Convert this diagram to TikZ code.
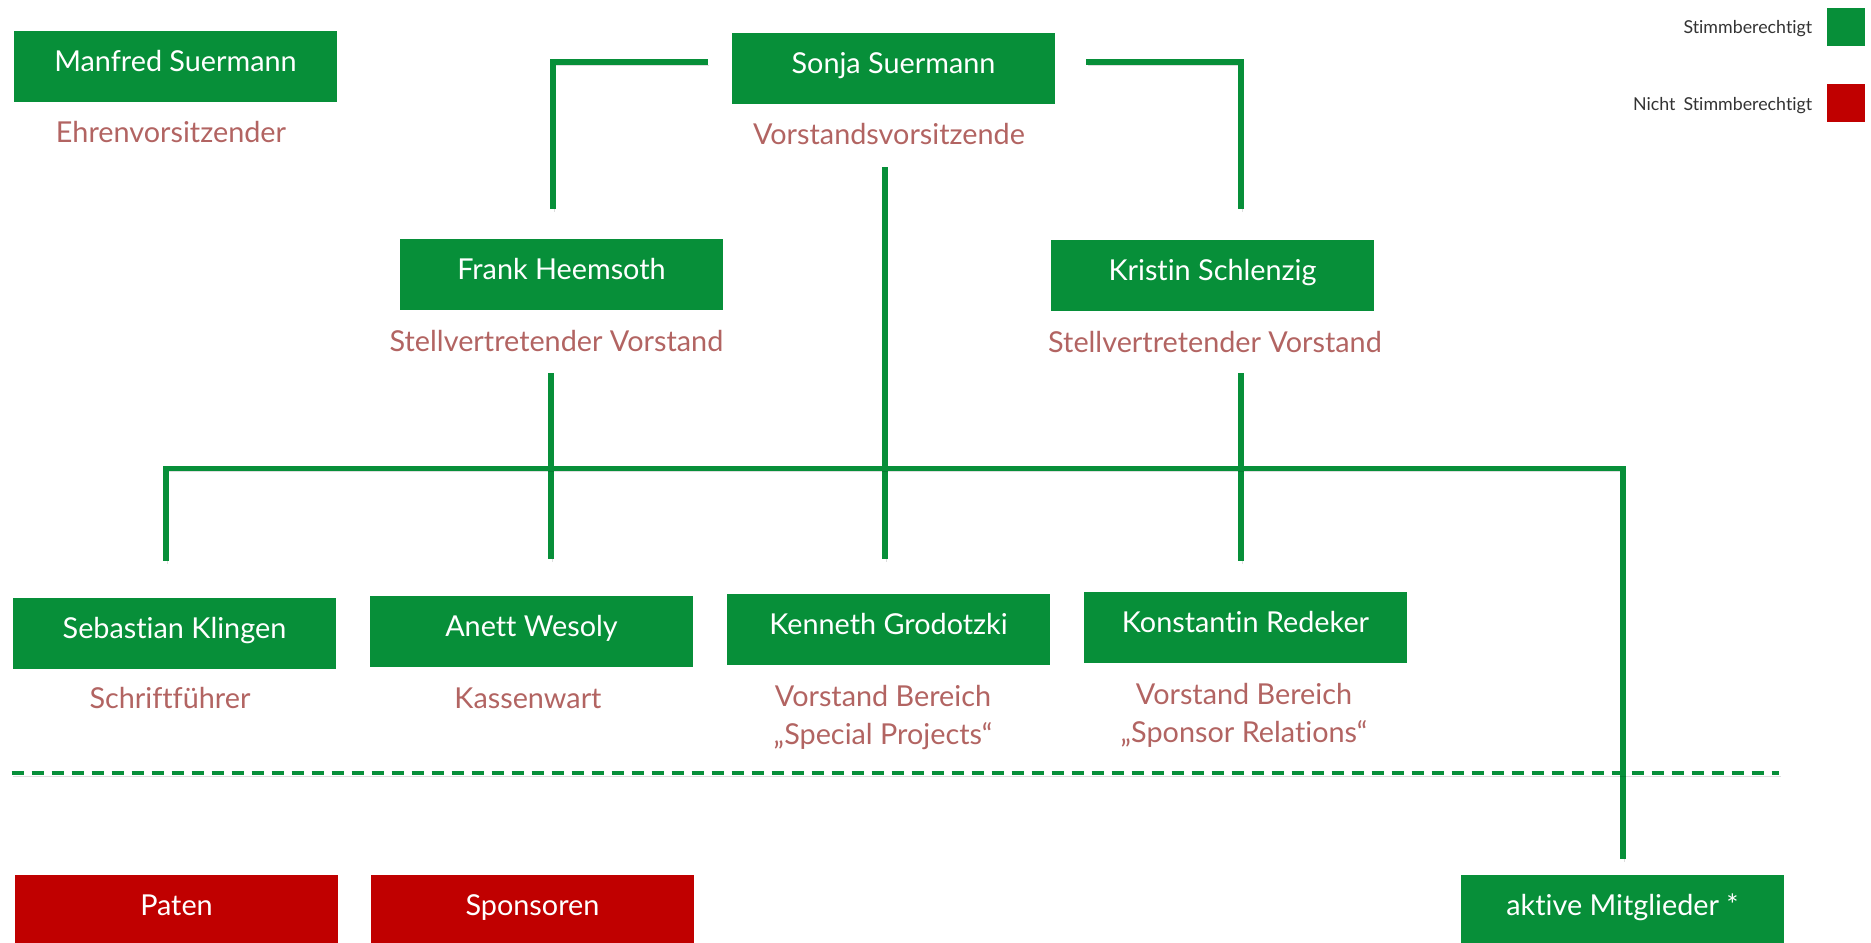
\documentclass[tikz,border=0pt]{standalone}
\usepackage{fontspec}
\setmainfont{Lato}[Ligatures=NoCommon]
\usepackage{tikz}
\usetikzlibrary{positioning,calc}
\definecolor{vgreen}{RGB}{7,143,57}
\definecolor{vred}{RGB}{192,0,0}
\definecolor{rolered}{RGB}{178,100,98}
\definecolor{leggray}{RGB}{51,51,51}

\tikzset{
	member/.style={rectangle, fill=vgreen, text=white, inner sep=0pt, minimum width=161.5pt, minimum height=35.5pt, text height=8pt, text depth=3.5pt, font=\fontsize{14.4}{17}\selectfont},
	guest/.style={member, fill=vred},
	role/.style={text=rolered, inner sep=0pt, anchor=base, font=\fontsize{14.4}{17}\selectfont},
	conn/.style={draw=vgreen, line width=2.75pt, preaction={draw=black, draw opacity=0.13, transform canvas={shift={(0.8pt,-1.5pt)}}}},
	sepline/.style={conn, line width=1.6pt, dash pattern=on 6pt off 4pt},
	legbox/.style={rectangle, inner sep=0pt, minimum size=19pt},
	legtext/.style={text=leggray, inner sep=0pt, anchor=base east, font=\fontsize{8.9}{11}\selectfont},
}

\begin{document}
\begin{tikzpicture}[x=0.5pt,y=-0.5pt]
\useasboundingbox (0,0) rectangle (1871,942);
% boxes
\node[member](manfred) at (175.5,66.5){Manfred Suermann};
\node[member](sonja) at (893.5,68.5){Sonja Suermann};
\node[member](frank) at (561.5,274.5){Frank Heemsoth};
\node[member](kristin) at (1212.5,275.5){Kristin Schlenzig};
\node[member](sebastian) at (174.5,633.5){Sebastian Klingen};
\node[member](anett) at (531.5,631.5){Anett Wesoly};
\node[member](kenneth) at (888.5,629.5){Kenneth Grodotzki};
\node[member](konstantin) at (1245.5,627.5){Konstantin Redeker};
\node[guest](paten) at (176.5,910.5){Paten};
\node[guest](sponsoren) at (532.5,910.5){Sponsoren};
\node[member](aktive) at (1622.5,910.5){aktive Mitglieder *};
% roles
\node[role](manfredL) at ($(manfred.south)+(-4.5,40)$){Ehrenvorsitzender};
\node[role](sonjaL) at ($(sonja.south)+(-4.5,40)$){Vorstandsvorsitzende};
\node[role](frankL) at ($(frank.south)+(-5,41)$){Stellvertretender Vorstand};
\node[role](kristinL) at ($(kristin.south)+(2.5,41)$){Stellvertretender Vorstand};
\node[role](sebastianL) at ($(sebastian.south)+(-4.5,39)$){Schriftführer};
\node[role](anettL) at ($(anett.south)+(-3.5,41)$){Kassenwart};
\node[role](kennethL) at ($(kenneth.south)+(-5.5,41)$){Vorstand Bereich};
\node[role](kennethLL) at ($(kennethL.base)+(0,38)$){„Special Projects“};
\node[role](konstantinL) at ($(konstantin.south)+(-1.5,41)$){Vorstand Bereich};
\node[role](konstantinLL) at ($(konstantinL.base)+(0,38)$){„Sponsor Relations“};
% legend
\node[legbox, fill=vgreen](legVote) at (1846,27){};
\node[legtext](legVoteT) at ($(legVote.west)+(-14,6)$){Stimmberechtigt};
\node[legbox, fill=vred](legNoVote) at (1846,103){};
\node[legtext](legNoVoteT) at ($(legNoVote.west)+(-14,7)$){Nicht\hspace{0.45em}Stimmberechtigt};
% lines
\draw[conn]($(sonja.west)+(-24,-6.5)$)-|($(frank.north)+(-8.5,-30)$);
\draw[conn]($(sonja.east)+(31,-6.5)$)-|($(kristin.north)+(28.5,-31)$);
\draw[conn]($(sonja.south)+(-8.5,63)$)--($(kenneth.north)+(-3.5,-35)$);
\draw[conn]($(frank.south)+(-10.5,63)$)--($(anett.north)+(19.5,-37)$);
\draw[conn]($(kristin.south)+(28.5,62)$)--($(konstantin.north)+(-4.5,-31)$);
\draw[conn]($(sebastian.north)+(-8.5,-37)$)|-($(aktive.north)+(0.5,-406)$)--($(aktive.north)+(0.5,-16)$);
\coordinate(sepL) at (11.5,773);
\coordinate(sepR) at (1779,773);
\draw[sepline](sepL)--(sepR);
\end{tikzpicture}
\end{document}
